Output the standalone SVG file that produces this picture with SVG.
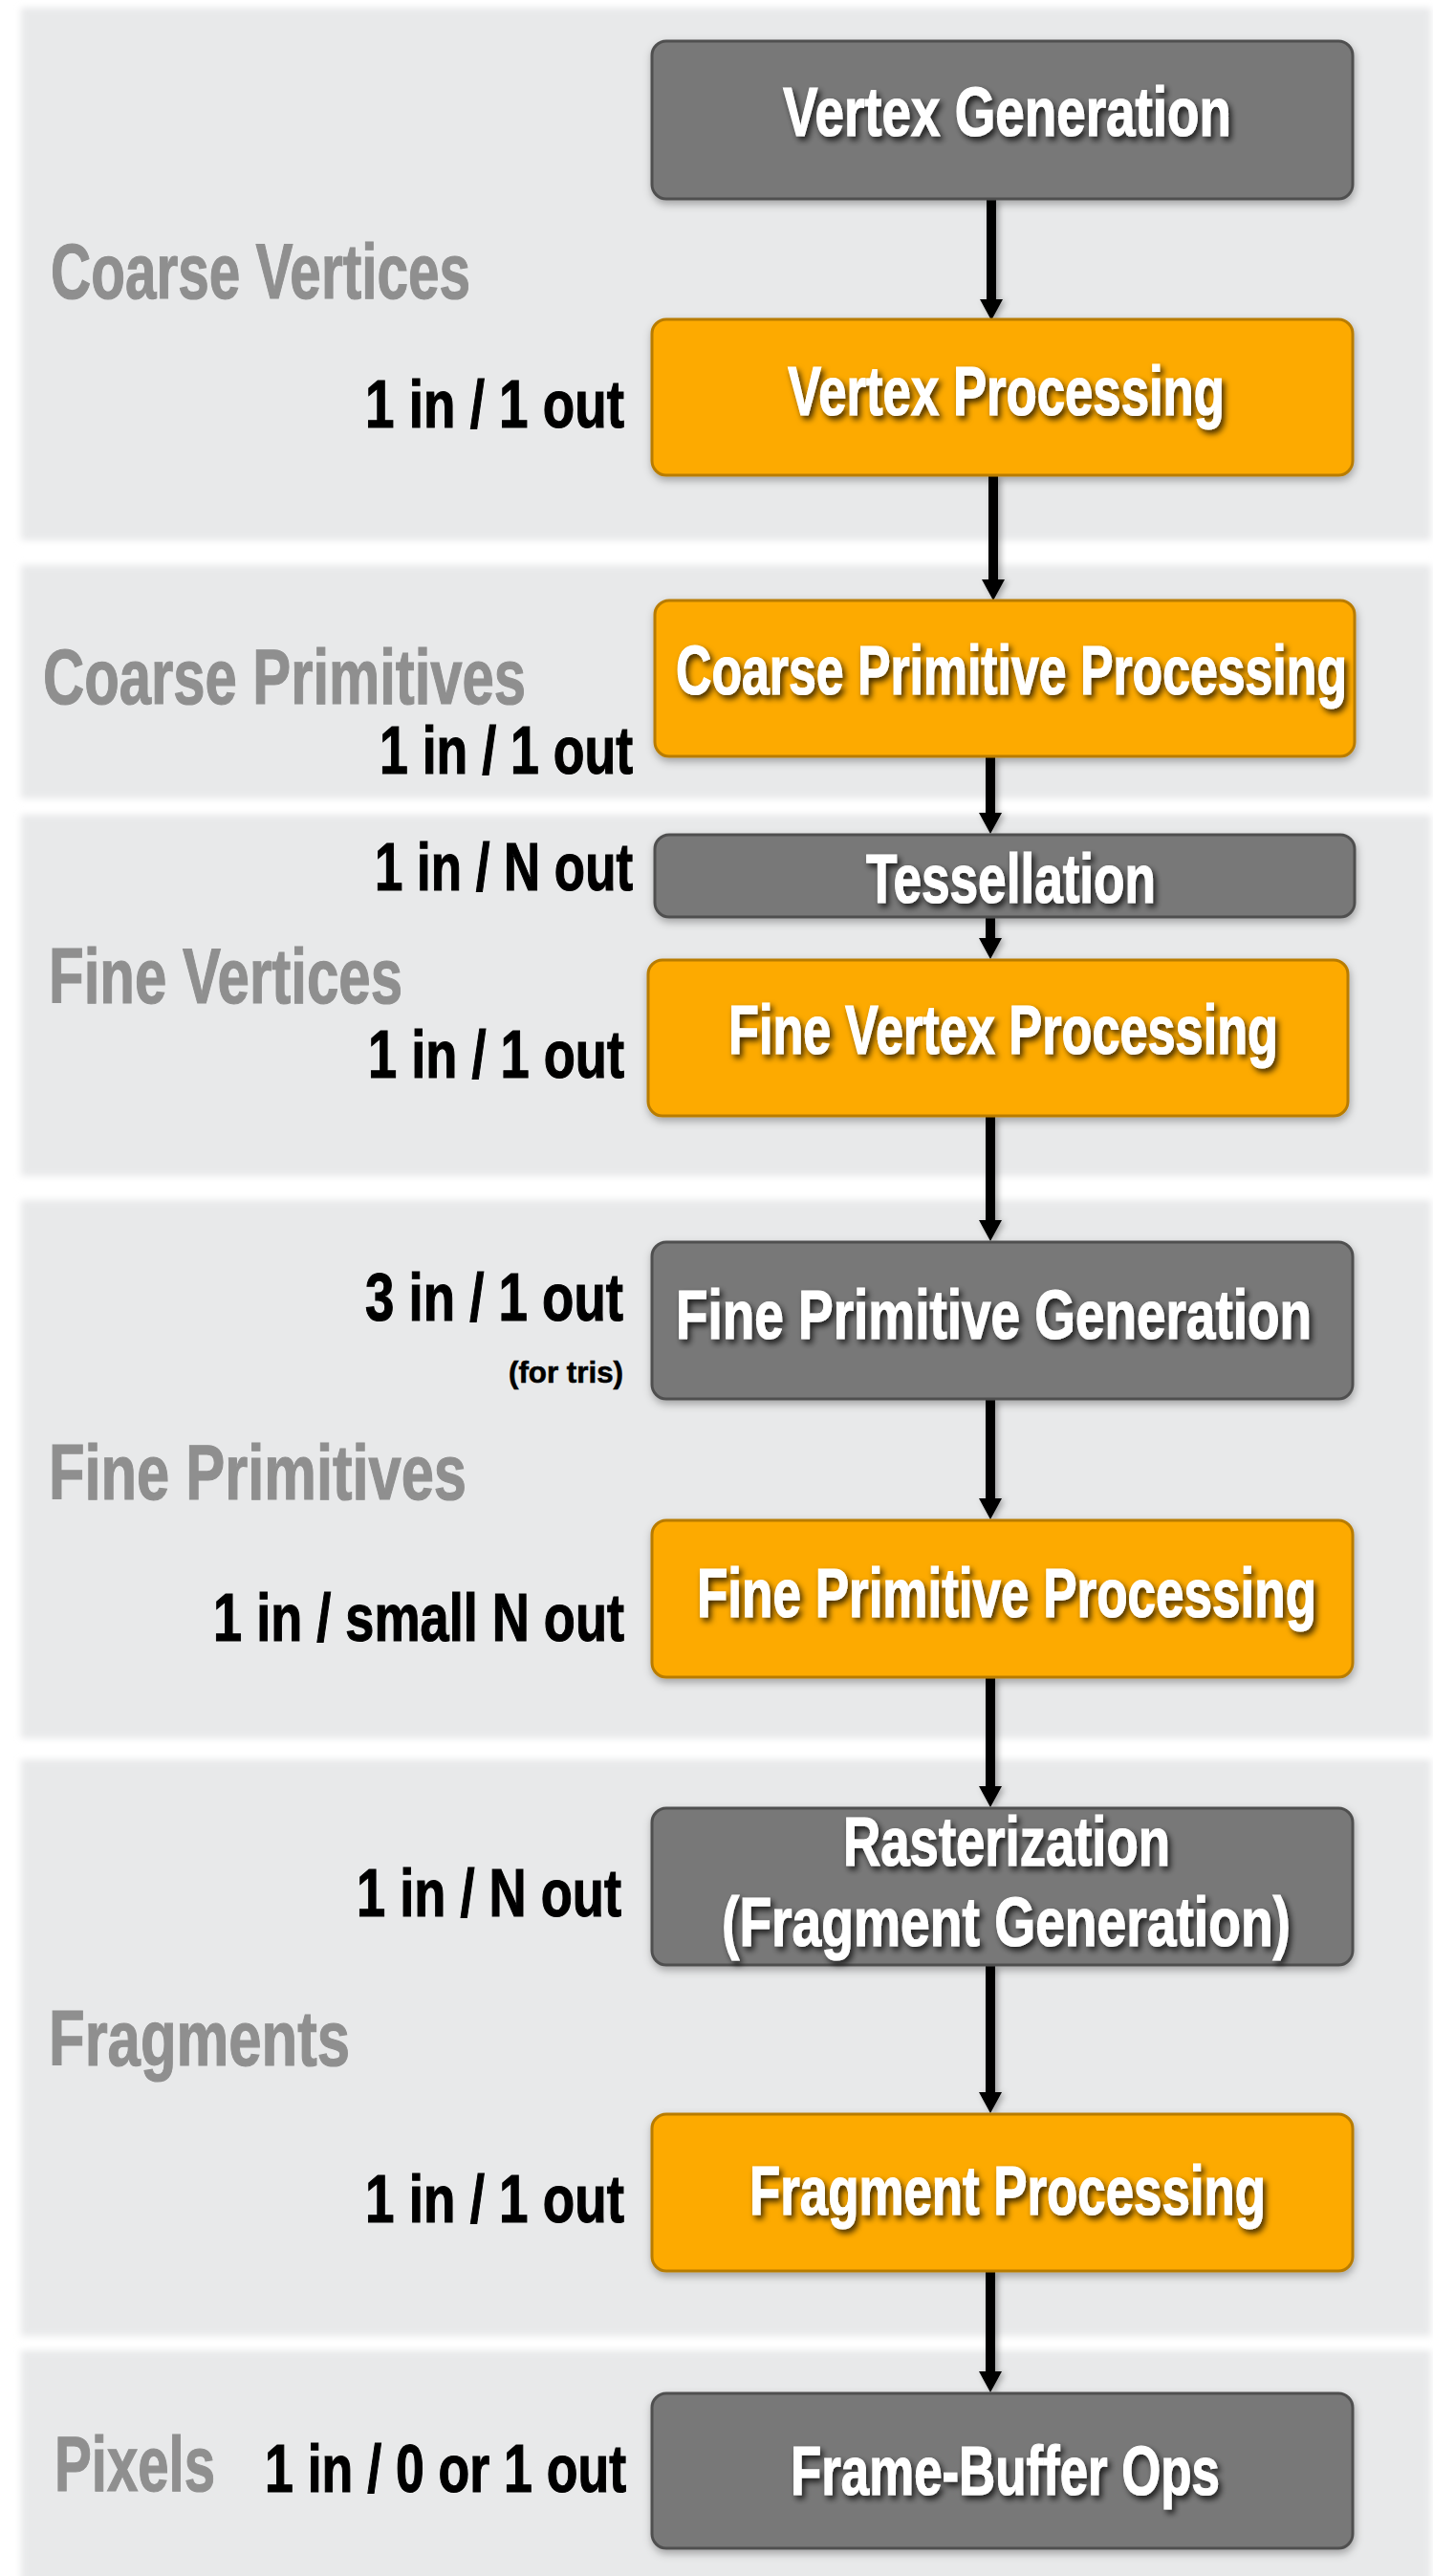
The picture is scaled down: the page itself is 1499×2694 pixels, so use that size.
<svg xmlns="http://www.w3.org/2000/svg" width="1499" height="2694" viewBox="0 0 1499 2694">
  <defs>
    <filter id="bandBlur" x="-5%" y="-5%" width="110%" height="110%">
      <feGaussianBlur stdDeviation="3.5"/>
    </filter>
    <filter id="boxShadow" x="-5%" y="-10%" width="110%" height="130%">
      <feDropShadow dx="1" dy="4" stdDeviation="4" flood-color="#000" flood-opacity="0.3"/>
    </filter>
    <filter id="textShadow" x="-5%" y="-20%" width="115%" height="150%">
      <feDropShadow dx="3" dy="4" stdDeviation="3" flood-color="#000" flood-opacity="0.75"/>
    </filter>
    <filter id="arrowShadow" x="-50%" y="-5%" width="250%" height="115%">
      <feDropShadow dx="3" dy="2" stdDeviation="3" flood-color="#000" flood-opacity="0.3"/>
    </filter>
  </defs>
  <style>
    .band { fill: #e8e9ea; filter: url(#bandBlur); }
    .box { stroke-width: 3; filter: url(#boxShadow); }
    .gray { fill: #787878; stroke: #505050; }
    .orange { fill: #fdaa00; stroke: #b87b00; }
    .ntext { font-family: "Liberation Sans", Arial, sans-serif; font-weight: bold; font-size: 72px; fill: #ffffff; stroke: #ffffff; stroke-width: 1.2; filter: url(#textShadow); }
    .ltext { font-family: "Liberation Sans", Arial, sans-serif; font-weight: bold; font-size: 71px; fill: #000000; stroke: #000000; stroke-width: 1.2; }
    .stext { font-family: "Liberation Sans", Arial, sans-serif; font-weight: bold; font-size: 81px; fill: #8f8f8f; stroke: #8f8f8f; stroke-width: 1.2; }
    .small { font-size: 31px; stroke-width: 0.6; }
    .conn path { fill: #000000; stroke: none; }
  </style>
  <rect x="0" y="0" width="1499" height="2694" fill="#ffffff"/>

  <g id="bands">
    <rect class="band" x="22" y="8" width="1475" height="557"/>
    <rect class="band" x="22" y="591" width="1475" height="244"/>
    <rect class="band" x="22" y="852" width="1475" height="378"/>
    <rect class="band" x="22" y="1255" width="1475" height="563"/>
    <rect class="band" x="22" y="1840" width="1475" height="603"/>
    <rect class="band" x="22" y="2458" width="1475" height="260"/>
  </g>

  <g id="section-labels">
    <text class="stext" x="53" y="312" textLength="439" lengthAdjust="spacingAndGlyphs">Coarse Vertices</text>
    <text class="stext" x="45" y="736" textLength="505" lengthAdjust="spacingAndGlyphs">Coarse Primitives</text>
    <text class="stext" x="51" y="1049" textLength="370" lengthAdjust="spacingAndGlyphs">Fine Vertices</text>
    <text class="stext" x="51" y="1568" textLength="437" lengthAdjust="spacingAndGlyphs">Fine Primitives</text>
    <text class="stext" x="51" y="2160" textLength="315" lengthAdjust="spacingAndGlyphs">Fragments</text>
    <text class="stext" x="57" y="2605" textLength="168" lengthAdjust="spacingAndGlyphs">Pixels</text>
  </g>

  <g id="rate-labels">
    <text class="ltext" x="382" y="447" textLength="271" lengthAdjust="spacingAndGlyphs">1 in / 1 out</text>
    <text class="ltext" x="397" y="809" textLength="265" lengthAdjust="spacingAndGlyphs">1 in / 1 out</text>
    <text class="ltext" x="392" y="931" textLength="270" lengthAdjust="spacingAndGlyphs">1 in / N out</text>
    <text class="ltext" x="385" y="1127" textLength="268" lengthAdjust="spacingAndGlyphs">1 in / 1 out</text>
    <text class="ltext" x="382" y="1381" textLength="270" lengthAdjust="spacingAndGlyphs">3 in / 1 out</text>
    <text class="ltext small" x="532" y="1446" textLength="120" lengthAdjust="spacingAndGlyphs">(for tris)</text>
    <text class="ltext" x="223" y="1716" textLength="430" lengthAdjust="spacingAndGlyphs">1 in / small N out</text>
    <text class="ltext" x="373" y="2004" textLength="277" lengthAdjust="spacingAndGlyphs">1 in / N out</text>
    <text class="ltext" x="382" y="2324" textLength="271" lengthAdjust="spacingAndGlyphs">1 in / 1 out</text>
    <text class="ltext" x="277" y="2606" textLength="378" lengthAdjust="spacingAndGlyphs">1 in / 0 or 1 out</text>
  </g>

  <g id="connectors" class="conn" filter="url(#arrowShadow)">
    <path d="M1032,209 H1042 V313 H1049 L1037,335 L1025,313 H1032 Z"/>
    <path d="M1034,498 H1044 V606 H1051 L1039,628 L1027,606 H1034 Z"/>
    <path d="M1031,792 H1041 V850 H1048 L1036,872 L1024,850 H1031 Z"/>
    <path d="M1031,960 H1041 V981 H1048 L1036,1003 L1024,981 H1031 Z"/>
    <path d="M1031,1168 H1041 V1276 H1048 L1036,1298 L1024,1276 H1031 Z"/>
    <path d="M1031,1464 H1041 V1567 H1048 L1036,1589 L1024,1567 H1031 Z"/>
    <path d="M1031,1755 H1041 V1868 H1048 L1036,1890 L1024,1868 H1031 Z"/>
    <path d="M1031,2056 H1041 V2188 H1048 L1036,2210 L1024,2188 H1031 Z"/>
    <path d="M1031,2376 H1041 V2480 H1048 L1036,2502 L1024,2480 H1031 Z"/>
  </g>

  <g id="vertex-generation">
    <rect class="box gray" x="682" y="43" width="733" height="165" rx="15"/>
    <text class="ntext" x="819" y="142" textLength="469" lengthAdjust="spacingAndGlyphs">Vertex Generation</text>
  </g>
  <g id="vertex-processing">
    <rect class="box orange" x="682" y="334" width="733" height="163" rx="15"/>
    <text class="ntext" x="824" y="434" textLength="457" lengthAdjust="spacingAndGlyphs">Vertex Processing</text>
  </g>
  <g id="coarse-primitive-processing">
    <rect class="box orange" x="685" y="628" width="732" height="163" rx="15"/>
    <text class="ntext" x="707" y="726" textLength="702" lengthAdjust="spacingAndGlyphs">Coarse Primitive Processing</text>
  </g>
  <g id="tessellation">
    <rect class="box gray" x="685" y="873" width="732" height="86" rx="15"/>
    <text class="ntext" x="906" y="944" textLength="303" lengthAdjust="spacingAndGlyphs">Tessellation</text>
  </g>
  <g id="fine-vertex-processing">
    <rect class="box orange" x="678" y="1004" width="732" height="163" rx="15"/>
    <text class="ntext" x="762" y="1102" textLength="575" lengthAdjust="spacingAndGlyphs">Fine Vertex Processing</text>
  </g>
  <g id="fine-primitive-generation">
    <rect class="box gray" x="682" y="1299" width="733" height="164" rx="15"/>
    <text class="ntext" x="707" y="1400" textLength="665" lengthAdjust="spacingAndGlyphs">Fine Primitive Generation</text>
  </g>
  <g id="fine-primitive-processing">
    <rect class="box orange" x="682" y="1590" width="733" height="164" rx="15"/>
    <text class="ntext" x="729" y="1691" textLength="648" lengthAdjust="spacingAndGlyphs">Fine Primitive Processing</text>
  </g>
  <g id="rasterization">
    <rect class="box gray" x="682" y="1891" width="733" height="164" rx="15"/>
    <text class="ntext" x="882" y="1951" textLength="342" lengthAdjust="spacingAndGlyphs">Rasterization</text>
    <text class="ntext" x="755" y="2035" textLength="595" lengthAdjust="spacingAndGlyphs">(Fragment Generation)</text>
  </g>
  <g id="fragment-processing">
    <rect class="box orange" x="682" y="2211" width="733" height="164" rx="15"/>
    <text class="ntext" x="784" y="2316" textLength="540" lengthAdjust="spacingAndGlyphs">Fragment Processing</text>
  </g>
  <g id="frame-buffer-ops">
    <rect class="box gray" x="682" y="2503" width="733" height="162" rx="15"/>
    <text class="ntext" x="827" y="2609" textLength="449" lengthAdjust="spacingAndGlyphs">Frame-Buffer Ops</text>
  </g>
</svg>
